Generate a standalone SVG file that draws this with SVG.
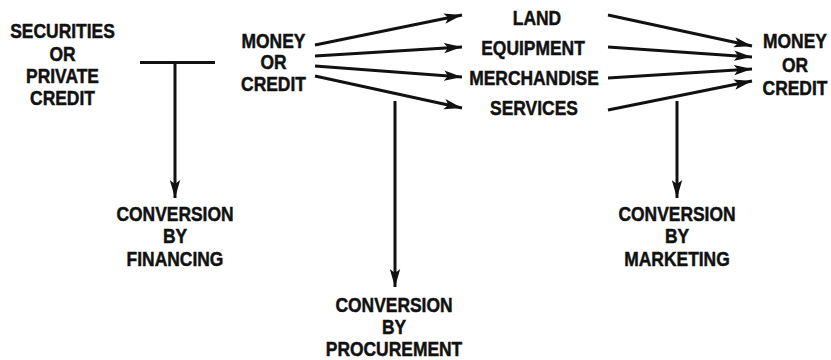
<svg xmlns="http://www.w3.org/2000/svg" width="831" height="360" viewBox="0 0 831 360">
<style>
  text { font-family: "Liberation Sans", Arial, sans-serif; font-weight: bold; font-size: 21px; fill: #111; stroke: #111; stroke-width: 0.5; text-anchor: middle; }
  .ln { stroke: #111; stroke-width: 3; fill: none; stroke-linecap: butt; }
</style>
<defs>
  <marker id="ah" viewBox="0 0 18 11" refX="18" refY="5.5" markerWidth="18" markerHeight="11" markerUnits="userSpaceOnUse" orient="auto">
    <path d="M0,0.3 L18,5.5 L0,10.7 L4,5.5 Z" fill="#111"/>
  </marker>
</defs>
<rect width="831" height="360" fill="#fff"/>

<g id="node-securities">
  <text transform="matrix(0.83 0 0 1 62.5 0)"><tspan x="0" y="38">SECURITIES</tspan><tspan x="0" y="61">OR</tspan><tspan x="0" y="83">PRIVATE</tspan><tspan x="0" y="105">CREDIT</tspan></text>
</g>
<g id="node-money-left">
  <text transform="matrix(0.83 0 0 1 273.5 0)"><tspan x="0" y="48">MONEY</tspan><tspan x="0" y="69.5">OR</tspan><tspan x="0" y="91">CREDIT</tspan></text>
</g>
<g id="node-land"><text transform="matrix(0.83 0 0 1 537 0)" x="0" y="25">LAND</text></g>
<g id="node-equipment"><text transform="matrix(0.83 0 0 1 533 0)" x="0" y="55">EQUIPMENT</text></g>
<g id="node-merchandise"><text transform="matrix(0.83 0 0 1 534 0)" x="0" y="85">MERCHANDISE</text></g>
<g id="node-services"><text transform="matrix(0.83 0 0 1 534 0)" x="0" y="115">SERVICES</text></g>
<g id="node-money-right">
  <text transform="matrix(0.83 0 0 1 795 0)"><tspan x="0" y="48">MONEY</tspan><tspan x="0" y="72">OR</tspan><tspan x="0" y="95">CREDIT</tspan></text>
</g>
<g id="node-financing">
  <text transform="matrix(0.83 0 0 1 175 0)"><tspan x="0" y="221">CONVERSION</tspan><tspan x="0" y="243.5">BY</tspan><tspan x="0" y="266">FINANCING</tspan></text>
</g>
<g id="node-procurement">
  <text transform="matrix(0.83 0 0 1 394 0)"><tspan x="0" y="312">CONVERSION</tspan><tspan x="0" y="334">BY</tspan><tspan x="0" y="356">PROCUREMENT</tspan></text>
</g>
<g id="node-marketing">
  <text transform="matrix(0.83 0 0 1 677 0)"><tspan x="0" y="221">CONVERSION</tspan><tspan x="0" y="243.5">BY</tspan><tspan x="0" y="266">MARKETING</tspan></text>
</g>

<g id="connectors">
  <line class="ln" x1="140" y1="62.5" x2="215" y2="62.5"/>
  <line class="ln" x1="175" y1="62.5" x2="175" y2="198" marker-end="url(#ah)"/>
  <line class="ln" x1="395" y1="101" x2="395" y2="287" marker-end="url(#ah)"/>
  <line class="ln" x1="677" y1="101" x2="677" y2="198" marker-end="url(#ah)"/>

  <line class="ln" x1="315" y1="45" x2="462" y2="15" marker-end="url(#ah)"/>
  <line class="ln" x1="315" y1="56" x2="462" y2="47" marker-end="url(#ah)"/>
  <line class="ln" x1="315" y1="66" x2="462" y2="77" marker-end="url(#ah)"/>
  <line class="ln" x1="315" y1="76" x2="462" y2="108" marker-end="url(#ah)"/>

  <line class="ln" x1="608" y1="15" x2="752" y2="46" marker-end="url(#ah)"/>
  <line class="ln" x1="608" y1="47" x2="752" y2="57" marker-end="url(#ah)"/>
  <line class="ln" x1="608" y1="78" x2="752" y2="69" marker-end="url(#ah)"/>
  <line class="ln" x1="608" y1="110" x2="752" y2="81" marker-end="url(#ah)"/>
</g>
</svg>
